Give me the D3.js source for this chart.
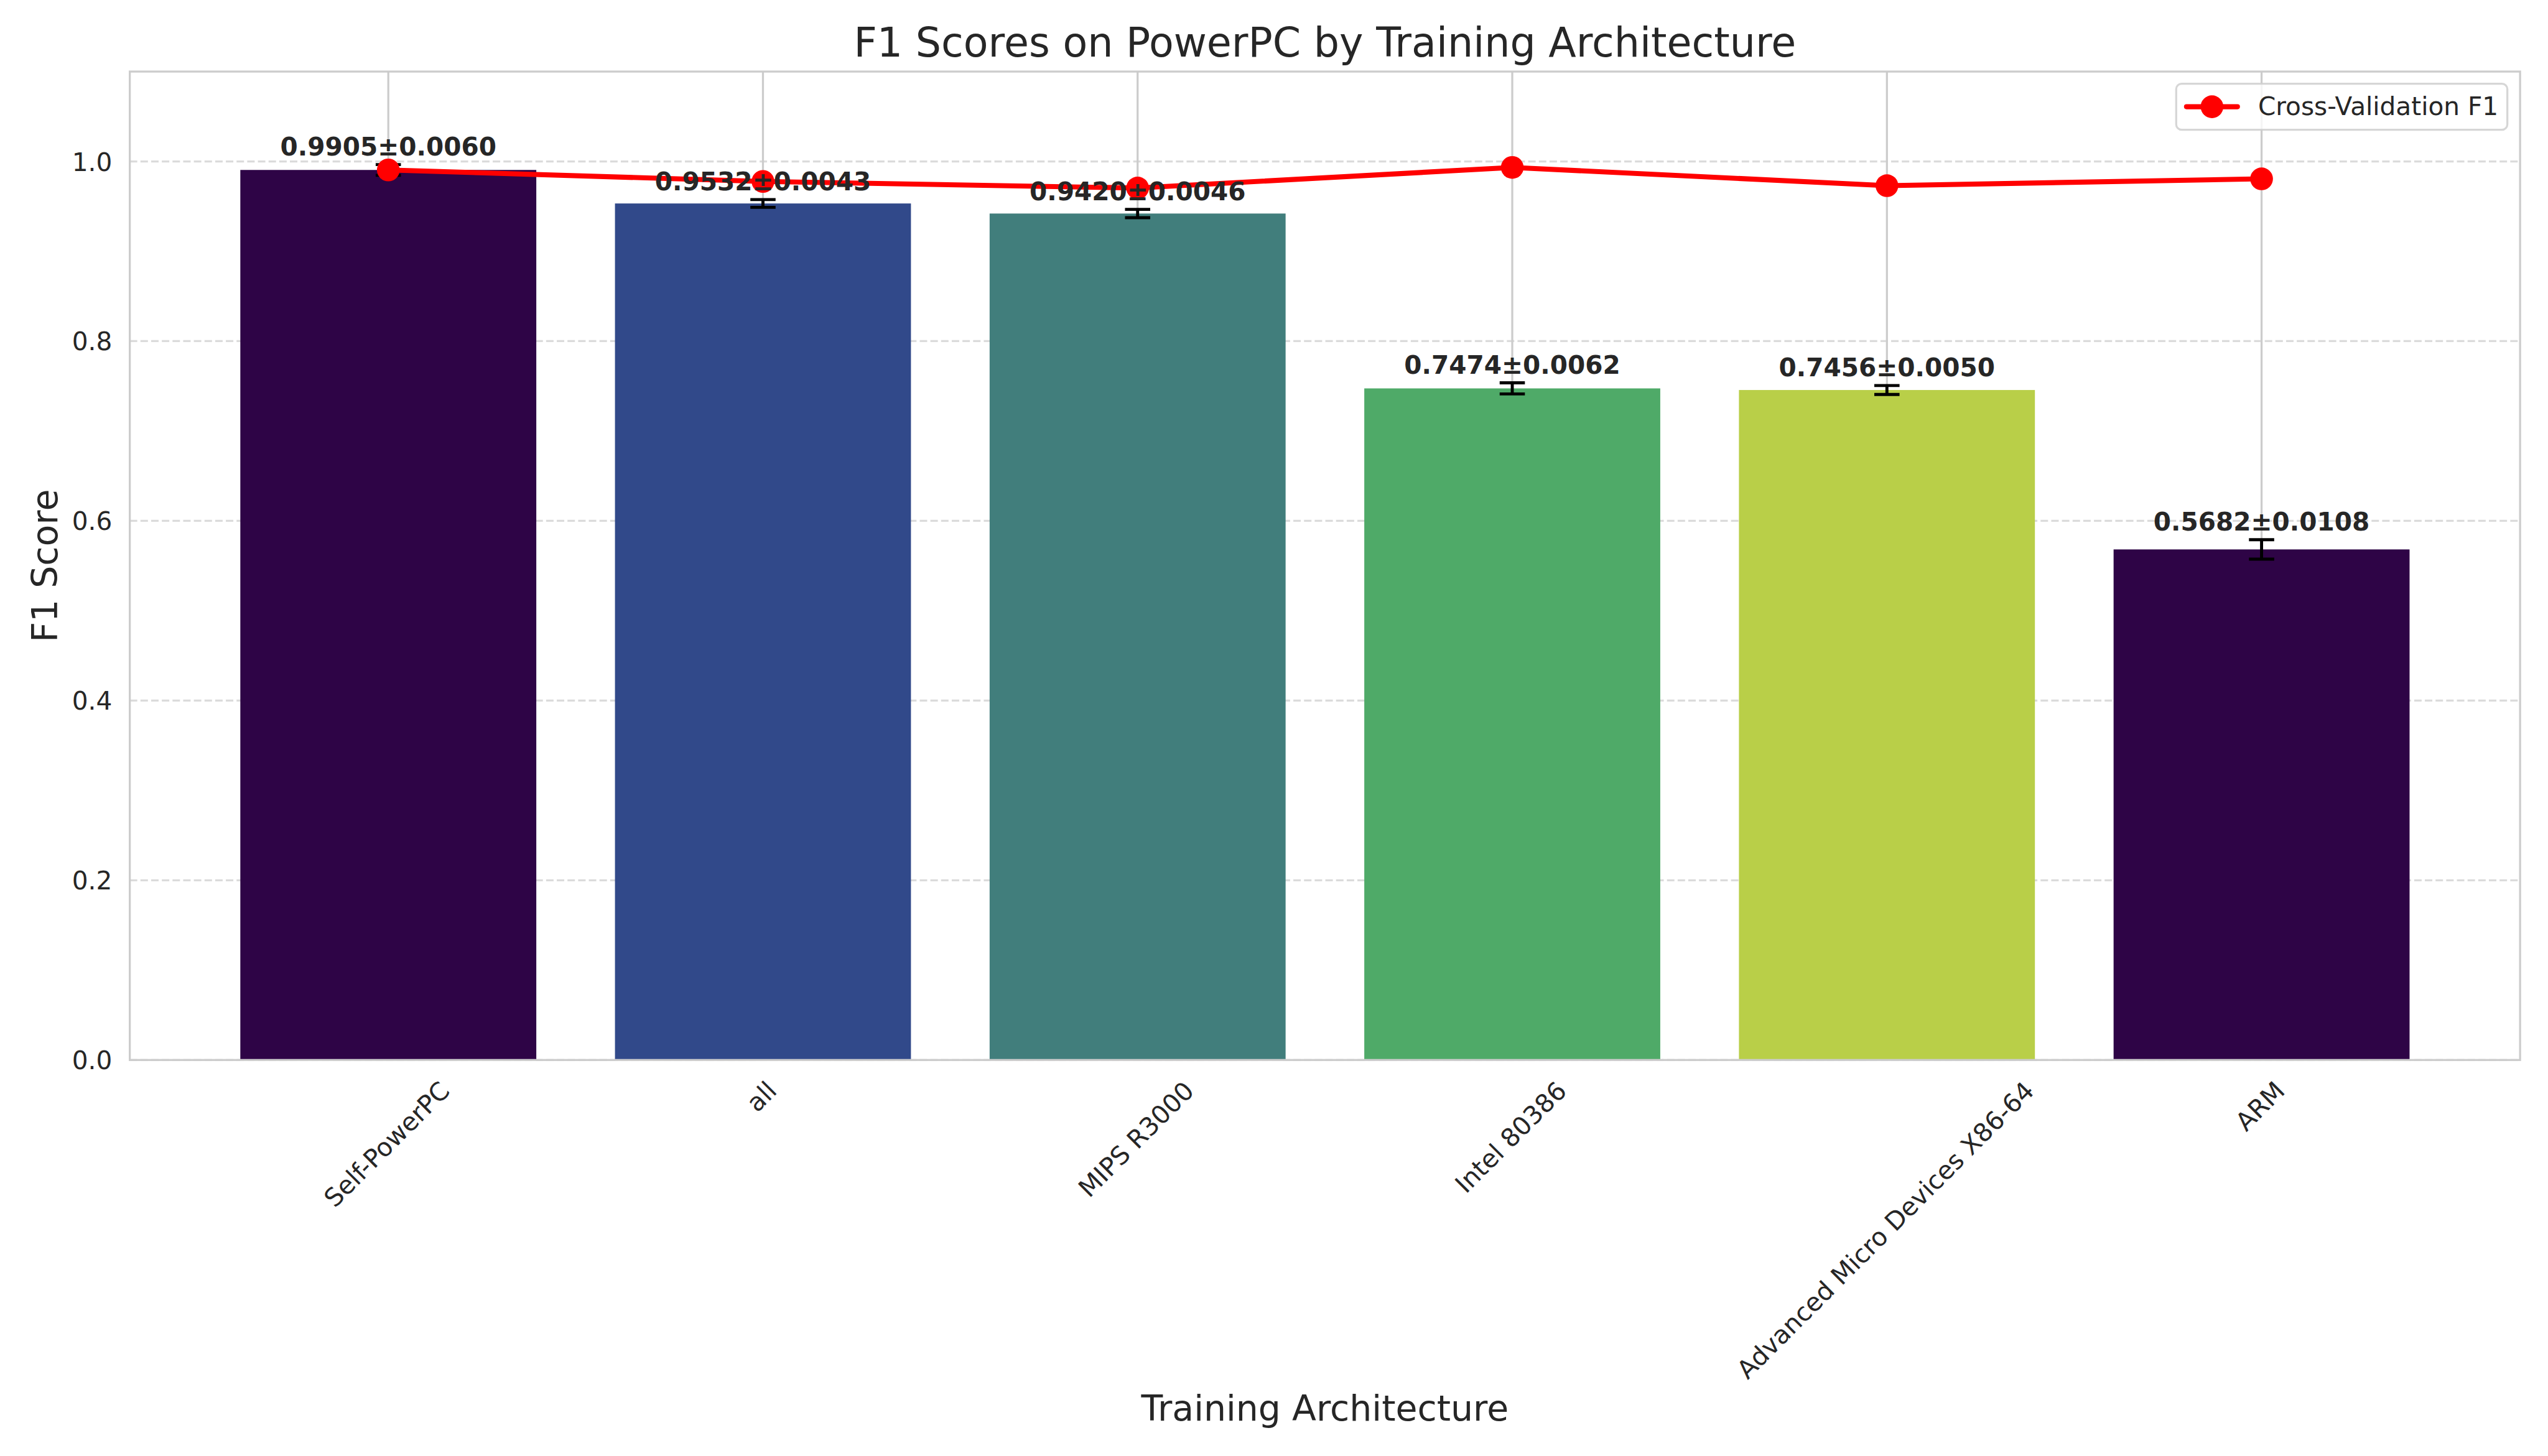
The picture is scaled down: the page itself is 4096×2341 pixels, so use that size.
<!DOCTYPE html>
<html>
<head>
<meta charset="utf-8">
<script src="https://cdn.jsdelivr.net/npm/d3@7"></script>
<style>
  html, body { margin: 0; padding: 0; background: #ffffff; }
  svg { display: block; }
  text { font-family: "DejaVu Sans", sans-serif; }
</style>
</head>
<body>
<svg id="chart" width="4096" height="2341"></svg>
<script>
// ---- data ----
const categories = ["Self-PowerPC", "all", "MIPS R3000", "Intel 80386", "Advanced Micro Devices X86-64", "ARM"];
const meanF1 = [0.9905, 0.9532, 0.9420, 0.7474, 0.7456, 0.5682];
const stdF1 = [0.0060, 0.0043, 0.0046, 0.0062, 0.0050, 0.0108];
const cvF1 = [0.9905, 0.9777, 0.9704, 0.9933, 0.9730, 0.9806];
const barColors = ["#2e0446", "#31498a", "#417e7c", "#4faa68", "#b9cf48", "#2e0446"];
const yTicks = [0.0, 0.2, 0.4, 0.6, 0.8, 1.0];
const titleText = "F1 Scores on PowerPC by Training Architecture";
const xLabelText = "Training Architecture";
const yLabelText = "F1 Score";
const legendText = "Cross-Validation F1";

// ---- layout (reference pixel space, scaled by 0.975) ----
const S = 0.975;
const L = 214, R = 4155, T = 118, B = 1748;
const textColor = "#262626";
const gridColor = "#cccccc";
const tickFont = 41.67, labelFont = 58.33, titleFont = 66.67;

const svg = d3.select("#chart");
const root = svg.append("g").attr("transform", `scale(${S})`);

const idx = categories.map((d, i) => i);
const x = d3.scaleLinear().domain([-0.69, 5.69]).range([L, R]);
const y = d3.scaleLinear().domain([0, 1.1]).range([B, T]);
const barW = x(0.79) - x(0);

// horizontal grid (dashed)
root.append("g").selectAll("line").data(yTicks).join("line")
  .attr("x1", L).attr("x2", R)
  .attr("y1", d => y(d)).attr("y2", d => y(d))
  .attr("stroke", gridColor).attr("stroke-opacity", 0.7)
  .attr("stroke-width", 3.33).attr("stroke-dasharray", "12.3,5.3");

// vertical grid (solid)
root.append("g").selectAll("line").data(idx).join("line")
  .attr("x1", d => x(d)).attr("x2", d => x(d))
  .attr("y1", T).attr("y2", B)
  .attr("stroke", gridColor).attr("stroke-width", 3.33);

// bars
root.append("g").selectAll("rect").data(idx).join("rect")
  .attr("x", d => x(d) - barW / 2)
  .attr("width", barW)
  .attr("y", d => y(meanF1[d]))
  .attr("height", d => y(0) - y(meanF1[d]))
  .attr("fill", d => barColors[d]);

// error bars
const eb = root.append("g").attr("stroke", "#000").attr("stroke-width", 5);
const capHalf = 20.8;
idx.forEach(i => {
  const cx = x(i), lo = y(meanF1[i] - stdF1[i]), hi = y(meanF1[i] + stdF1[i]);
  eb.append("line").attr("x1", cx).attr("x2", cx).attr("y1", lo).attr("y2", hi);
  eb.append("line").attr("x1", cx - capHalf).attr("x2", cx + capHalf).attr("y1", lo).attr("y2", lo);
  eb.append("line").attr("x1", cx - capHalf).attr("x2", cx + capHalf).attr("y1", hi).attr("y2", hi);
});

// spines
root.append("rect").attr("x", L).attr("y", T).attr("width", R - L).attr("height", B - T)
  .attr("fill", "none").attr("stroke", gridColor).attr("stroke-width", 3.33);

// cross-validation line
const line = d3.line().x(d => x(d)).y(d => y(cvF1[d]));
root.append("path").datum(idx).attr("d", line)
  .attr("fill", "none").attr("stroke", "#ff0000").attr("stroke-width", 8.33)
  .attr("stroke-linejoin", "round").attr("stroke-linecap", "round");
root.append("g").selectAll("circle").data(idx).join("circle")
  .attr("cx", d => x(d)).attr("cy", d => y(cvF1[d])).attr("r", 18.75)
  .attr("fill", "#ff0000");

// bar value labels
root.append("g").selectAll("text").data(idx).join("text")
  .attr("x", d => x(d))
  .attr("y", d => y(meanF1[d] + stdF1[d] + 0.01))
  .attr("text-anchor", "middle")
  .attr("font-size", tickFont).attr("font-weight", "bold")
  .attr("fill", textColor)
  .text(d => `${meanF1[d].toFixed(4)}±${stdF1[d].toFixed(4)}`);

// y tick labels
root.append("g").selectAll("text").data(yTicks).join("text")
  .attr("x", L - 29).attr("y", d => y(d)).attr("dy", "0.37em")
  .attr("text-anchor", "end").attr("font-size", tickFont).attr("fill", textColor)
  .text(d => d.toFixed(1));

// x tick labels (rotated 45°, centred on tick)
const xtg = root.append("g");
idx.forEach(i => {
  const t = xtg.append("text")
    .attr("text-anchor", "middle").attr("font-size", tickFont).attr("fill", textColor)
    .attr("dy", "0.265em")
    .text(categories[i]);
  const len = t.node().getComputedTextLength();
  const h = tickFont * 0.99;
  const cy = 1779 + (len + h) / (2 * Math.SQRT2);
  t.attr("transform", `translate(${x(i)},${cy}) rotate(-45)`);
});

// axis labels and title
root.append("text").attr("x", (L + R) / 2).attr("y", 2343)
  .attr("text-anchor", "middle").attr("font-size", labelFont).attr("fill", textColor)
  .text(xLabelText);
root.append("text").attr("transform", `translate(94,${(T + B) / 2}) rotate(-90)`)
  .attr("text-anchor", "middle").attr("font-size", labelFont).attr("fill", textColor)
  .text(yLabelText);
root.append("text").attr("x", (L + R) / 2).attr("y", 93)
  .attr("text-anchor", "middle").attr("font-size", titleFont).attr("fill", textColor)
  .text(titleText);

// legend
const lg = root.append("g");
lg.append("rect").attr("x", 3588).attr("y", 138).attr("width", 546).attr("height", 76)
  .attr("rx", 9).attr("ry", 9)
  .attr("fill", "#ffffff").attr("fill-opacity", 0.8)
  .attr("stroke", gridColor).attr("stroke-opacity", 0.8).attr("stroke-width", 3.33);
lg.append("line").attr("x1", 3605).attr("x2", 3689).attr("y1", 176).attr("y2", 176)
  .attr("stroke", "#ff0000").attr("stroke-width", 8.33).attr("stroke-linecap", "round");
lg.append("circle").attr("cx", 3647).attr("cy", 176).attr("r", 18.75).attr("fill", "#ff0000");
lg.append("text").attr("x", 3723).attr("y", 190)
  .attr("font-size", tickFont).attr("fill", textColor).text(legendText);
</script>
</body>
</html>
